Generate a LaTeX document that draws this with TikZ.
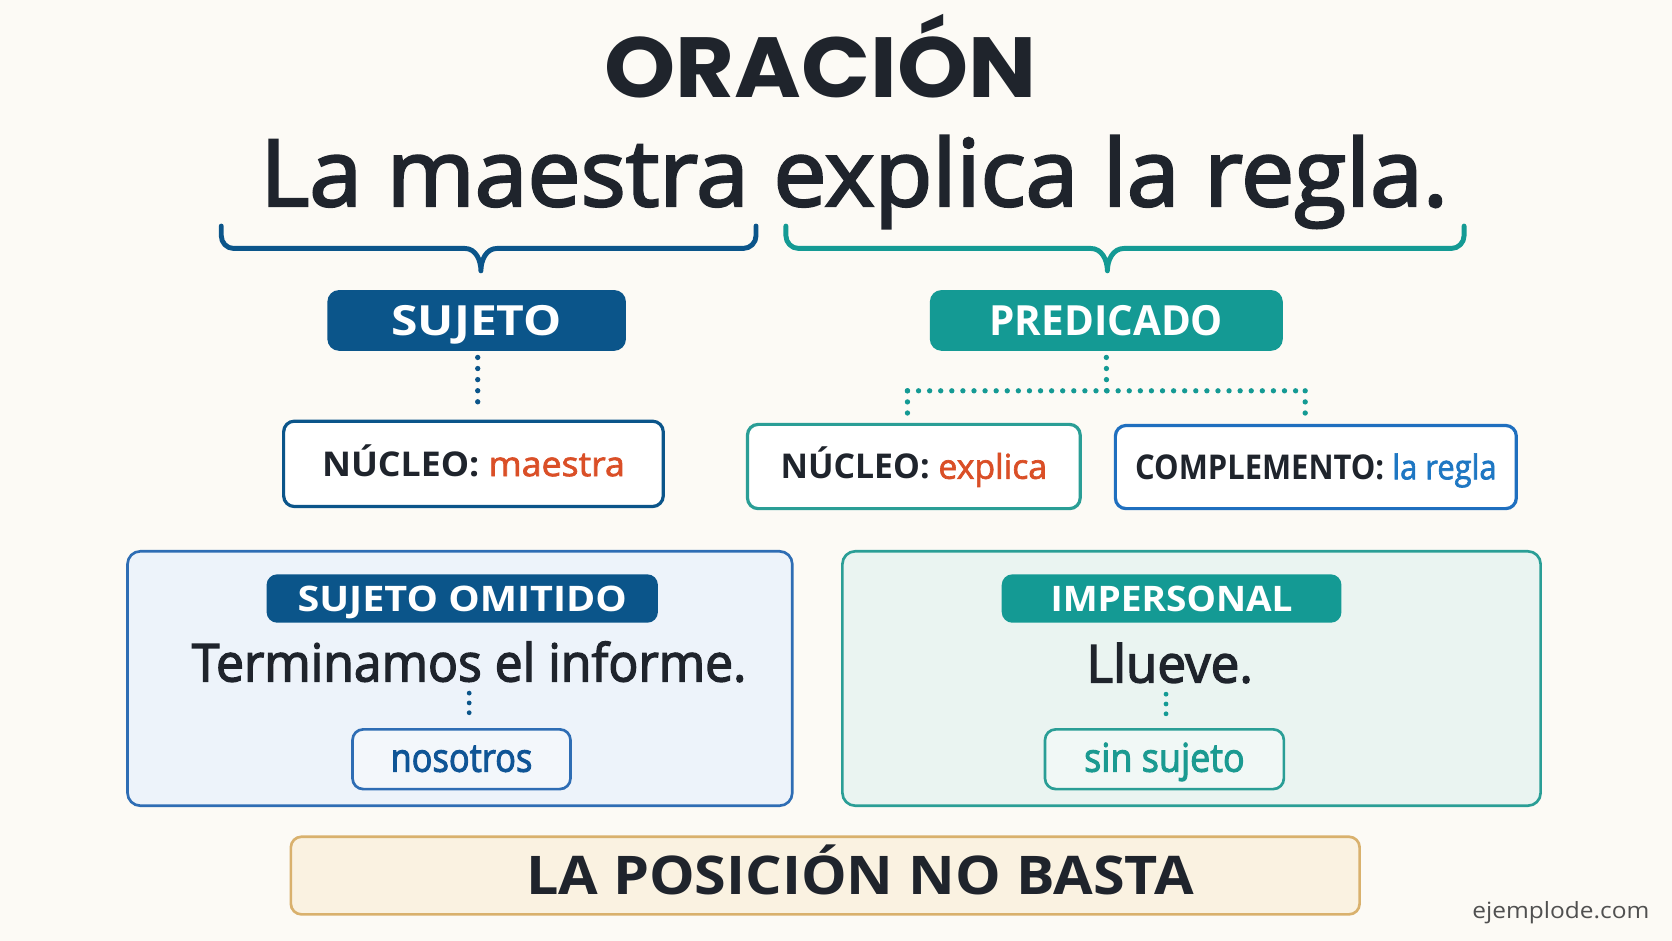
\documentclass[tikz,border=0pt]{standalone}
\usepackage{graphicx}
\usepackage{fontspec}
\setmainfont{Open Sans}
\newfontfamily\titlefont{Poppins}
\newfontfamily\medfont{Open Sans}[FakeBold=2.6]
\newfontfamily\lblfont{Open Sans}[FakeBold=2.0]
\newcommand\hfit[2]{\resizebox{#1}{\height}{#2}}
\definecolor{bgc}{HTML}{FCFAF5}
\definecolor{ctext}{HTML}{1F242C}
\definecolor{cblue}{HTML}{0B558A}
\definecolor{cteal}{HTML}{149A94}
\definecolor{corange}{HTML}{DA4F27}
\definecolor{clblue}{HTML}{1E77C3}
\definecolor{ccompb}{HTML}{1F6FBF}
\definecolor{cplfill}{HTML}{EDF3FA}
\definecolor{cplb}{HTML}{2E6DB4}
\definecolor{cprfill}{HTML}{EAF4F1}
\definecolor{cprb}{HTML}{2A9E96}
\definecolor{cnoso}{HTML}{0F5596}
\definecolor{cnosofill}{HTML}{F3F7FB}
\definecolor{csin}{HTML}{1B9A91}
\definecolor{csinfill}{HTML}{F1F8F6}
\definecolor{cbanfill}{HTML}{FAF2E1}
\definecolor{cbanb}{HTML}{D9B16D}
\definecolor{cgray}{HTML}{505050}
\begin{document}
\begin{tikzpicture}[x=1pt,y=-1pt,
  pill/.style={rounded corners=11pt, inner sep=0pt, text=white},
  wbox/.style={draw, line width=3pt, fill=white, rounded corners=10pt, inner sep=0pt, text=ctext},
  panel/.style={draw, line width=2.5pt, rounded corners=12pt, inner sep=0pt},
  subbox/.style={draw, line width=2.5pt, rounded corners=10pt, inner sep=0pt},
  dotline/.style={line width=5pt, line cap=round, dash pattern=on 0pt off 10.4pt},
  dotsmall/.style={line width=4.5pt, line cap=round, dash pattern=on 0pt off 9.2pt},
  bracepath/.style={line width=4.6pt, line cap=round, line join=round}]
\fill[bgc] (0,0) rectangle (1568,882);
\useasboundingbox (0,0) rectangle (1568,882);

% title and sentence
\node[anchor=base, text=ctext] (title) at (769.5,91.6)
  {\hfit{405pt}{\fontsize{80}{80}\titlefont\bfseries ORACIÓN}};
\node[anchor=base, text=ctext] (sent) at (801,193.2)
  {\hfit{1114pt}{\fontsize{87}{87}\medfont La maestra explica la regla.}};

% braces
\draw[bracepath, cblue] (207.5,212) -- (207.5,221) to[out=-90,in=180] (219,233)
  -- (436,233) to[out=0,in=90] (451,254) to[out=90,in=180] (466,233)
  -- (697,233) to[out=0,in=-90] (709,221) -- (709,212);
\draw[bracepath, cteal] (737,212) -- (737,221) to[out=-90,in=180] (749,233)
  -- (1023,233) to[out=0,in=90] (1038.5,254) to[out=90,in=180] (1054,233)
  -- (1361,233) to[out=0,in=-90] (1373,221) -- (1373,212);

% pills
\node[pill, fill=cblue, minimum width=280pt, minimum height=57pt, text height=28pt, text depth=0pt]
  (suj) at (447,300.5) {\hfit{160pt}{\fontsize{39}{39}\selectfont\bfseries SUJETO}};
\node[pill, fill=cteal, minimum width=331pt, minimum height=57pt, text height=28pt, text depth=0pt]
  (pred) at (1037.5,300.5) {\hfit{219pt}{\fontsize{39}{39}\selectfont\bfseries PREDICADO}};

% boxes
\node[wbox, draw=cblue, minimum width=356pt, minimum height=80pt, text height=23pt, text depth=0pt]
  (nuc1) at (444,435) {\hfit{284pt}{\fontsize{32}{32}\selectfont{\bfseries NÚCLEO:} {\lblfont\color{corange}maestra}}};
\node[wbox, draw=cprb, minimum width=312pt, minimum height=79pt, text height=23pt, text depth=0pt]
  (nuc2) at (857,437.5) {\hfit{250pt}{\fontsize{32}{32}\selectfont{\bfseries NÚCLEO:} {\lblfont\color{corange}explica}}};
\node[wbox, draw=ccompb, minimum width=376pt, minimum height=78pt, text height=23pt, text depth=0pt]
  (comp) at (1234,438) {\hfit{339pt}{\fontsize{32}{32}\selectfont{\bfseries COMPLEMENTO:} {\lblfont\color{clblue}la regla}}};

% dotted connectors (top)
\draw[dotline, cblue, shorten <=6pt, shorten >=8pt] (suj.south) ++(1,0) coordinate (sujs) -- (sujs |- nuc1.north);
\coordinate (pj) at (1037.7,366.5);
\coordinate (cl) at (851,366.5);
\coordinate (cr) at (1224,366.5);
\draw[dotline, cteal, shorten <=6pt] (pred.south) -- (pj);
\draw[dotline, cteal] (cl) -- (cr);
\draw[dotline, cteal, shorten >=7pt] (cl) -- (cl |- nuc2.north);
\draw[dotline, cteal, shorten >=7pt] (cr) -- (cr |- comp.north);

% panels
\node[panel, fill=cplfill, draw=cplb, minimum width=623.4pt, minimum height=238.6pt] (pl) at (431.3,636.3) {};
\node[panel, fill=cprfill, draw=cprb, minimum width=654.8pt, minimum height=238.6pt] (pr) at (1117.4,636.3) {};

\node[pill, fill=cblue, minimum width=367pt, minimum height=45.4pt, text height=23.5pt, text depth=0pt, rounded corners=10pt]
  (omit) at (433.5,561.3) {\hfit{309pt}{\fontsize{33}{33}\selectfont\bfseries SUJETO OMITIDO}};
\node[pill, fill=cteal, minimum width=318.6pt, minimum height=45.4pt, text height=23.5pt, text depth=0pt, rounded corners=10pt]
  (imp) at (1098.7,561.3) {\hfit{227pt}{\fontsize{33}{33}\selectfont\bfseries IMPERSONAL}};

\node[anchor=base, text=ctext] (term) at (440,639)
  {\hfit{520pt}{\fontsize{49}{49}\medfont Terminamos el informe.}};
\node[anchor=base, text=ctext] (llu) at (1097,640)
  {\hfit{156pt}{\fontsize{49}{49}\medfont Llueve.}};

\node[subbox, draw=cplb, fill=cnosofill, text=cnoso, minimum width=204.4pt, minimum height=56pt, text height=23.4pt, text depth=0pt]
  (noso) at (432.8,712) {\hfit{133pt}{\fontsize{37}{37}\medfont nosotros}};
\node[subbox, draw=cprb, fill=csinfill, text=csin, minimum width=224pt, minimum height=56pt, text height=23.4pt, text depth=0pt]
  (sin) at (1092,712) {\hfit{150.6pt}{\fontsize{37}{37}\medfont sin sujeto}};

\draw[dotsmall, cblue, shorten <=11pt, shorten >=6pt] (term.base) -- (term.base |- noso.north);
\draw[dotsmall, cteal, shorten <=11pt, shorten >=6pt] ([xshift=-3.5pt]llu.base) coordinate (llub) -- (llub |- sin.north);

% banner
\node[draw=cbanb, fill=cbanfill, line width=2.5pt, rounded corners=10pt, inner sep=0pt,
  minimum width=1002.3pt, minimum height=72.8pt, text height=36pt, text depth=0pt, text=ctext]
  (ban) at (773.9,821.1) {\hspace*{65pt}\hfit{626pt}{\fontsize{50}{50}\selectfont\bfseries LA POSICIÓN NO BASTA}};

\node[anchor=base east, inner sep=0pt, text=cgray] (web) at (1547,861)
  {\hfit{166pt}{\fontsize{21}{21}\selectfont ejemplode.com}};
\end{tikzpicture}
\end{document}
